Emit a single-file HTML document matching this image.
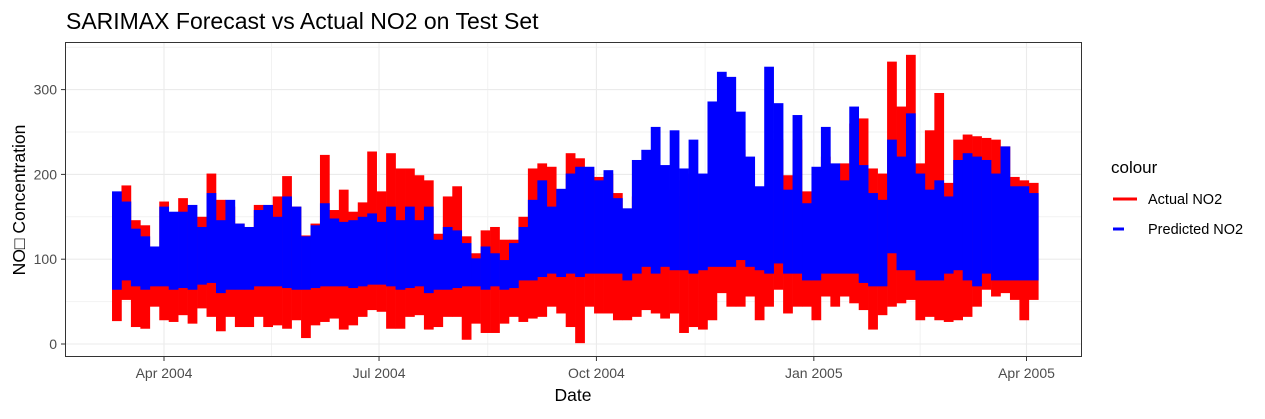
<!DOCTYPE html>
<html><head><meta charset="utf-8"><style>
body{margin:0;background:#fff;font-family:"Liberation Sans","DejaVu Sans",sans-serif;}
svg text{font-family:"Liberation Sans","DejaVu Sans",sans-serif;}
</style></head><body>
<svg id="chart" width="1265" height="414" viewBox="0 0 1265 414" xmlns="http://www.w3.org/2000/svg">
<rect width="1265" height="414" fill="#fff"/>
<text x="66" y="29" font-size="23" fill="#000">SARIMAX Forecast vs Actual NO2 on Test Set</text>
<g id="grid"></g>
<g id="marks"></g>
<rect x="65.5" y="42.5" width="1016" height="314" fill="none" stroke="#333" stroke-width="1"/>
<g id="axes"></g>
<text x="573" y="401" font-size="17.5" text-anchor="middle" fill="#000">Date</text>
<text transform="translate(25,200) rotate(-90)" font-size="17.5" text-anchor="middle" fill="#000">NO□ Concentration</text>
<g>
<text x="1111" y="173" font-size="17" fill="#000">colour</text>
<g>
<line x1="1113" y1="199" x2="1137" y2="199" stroke="#ff0000" stroke-width="3"/>
<text x="1148" y="204" font-size="14.5" fill="#000">Actual NO2</text></g>
<g>
<line x1="1113" y1="229" x2="1137" y2="229" stroke="#0000ff" stroke-width="3" stroke-dasharray="11,13"/>
<text x="1148" y="234" font-size="14.5" fill="#000">Predicted NO2</text></g>
</g>
</svg>
<script>
// 4-day bucket envelopes starting 2004-03-10
const startDate = "2004-03-10";
const bucketDays = 4;
const actualHigh = [173,187,146,140,99,168,154,172,146,150,201,170,162,142,130,164,162,174,198,162,128,142,223,158,182,156,167,227,180,225,207,207,
199,193,130,174,186,127,107,134,138,123,123,150,207,213,209,168,225,219,205,197,201,178,154,174,162,162,182,174,193,201,197,282,245,241,229,162,
178,166,241,199,241,180,170,221,186,213,260,266,207,201,333,280,341,213,252,296,190,241,247,245,243,241,233,197,193,190];
const actualLow = [27,52,20,18,44,28,26,34,24,42,32,15,32,20,20,32,20,22,18,28,7,22,26,30,17,22,32,40,38,18,18,32,
34,17,20,32,32,5,24,13,13,24,32,26,30,32,44,36,20,1,44,36,36,28,28,32,40,36,30,36,13,20,17,28,60,44,44,56,
28,44,64,36,44,44,28,56,44,56,48,40,17,34,44,48,52,28,32,28,26,28,32,44,64,56,60,52,28,52];
const predHigh = [180,168,136,127,115,162,156,156,164,138,178,146,170,142,138,158,164,150,174,162,127,140,166,148,144,146,150,154,144,162,146,162,
146,162,123,138,134,119,101,115,107,99,119,138,170,193,162,183,201,209,209,193,205,172,160,217,229,256,211,252,207,241,201,286,321,315,274,221,
186,327,284,182,270,166,209,256,213,193,280,211,178,170,241,221,272,201,182,193,174,217,225,221,217,201,233,186,186,178];
const predLow = [64,75,68,64,68,68,64,66,64,70,72,60,64,64,64,68,68,68,66,64,64,66,68,68,68,66,68,70,70,68,64,66,
68,60,64,64,66,68,68,64,68,64,66,75,75,79,83,79,83,79,83,83,83,83,75,83,91,83,91,87,87,83,87,91,91,91,99,91,
87,83,95,83,83,75,75,83,83,83,83,72,68,68,107,87,87,75,75,75,83,87,75,68,83,75,75,75,75,75];
const yTicks = [0,100,200,300];
const xTickLabels = ["Apr 2004","Jul 2004","Oct 2004","Jan 2005","Apr 2005"];
const xTickDates = ["2004-04-01","2004-07-01","2004-10-01","2005-01-01","2005-04-01"];

const NS="http://www.w3.org/2000/svg";
const DAY=86400000;
const origin=Date.UTC(2004,3,1);
function dayOf(s){const p=s.split("-");return (Date.UTC(+p[0],+p[1]-1,+p[2])-origin)/DAY;}
function xScale(d){return 164+d*2.363;}
function yScale(v){return 344-v*0.848;}
function mk(tag,attrs,parent){const e=document.createElementNS(NS,tag);for(const k in attrs)e.setAttribute(k,attrs[k]);parent.appendChild(e);return e;}
const grid=document.getElementById("grid"),marks=document.getElementById("marks"),axes=document.getElementById("axes");
for(let i=0;i<yTicks.length;i++){
  const v=yTicks[i]+50;
  const l=mk("line",{x1:66,x2:1081,y1:yScale(v),y2:yScale(v),stroke:"#f2f2f2","stroke-width":1},grid);
  
  
}
for(let i=0;i<xTickDates.length-1;i++){
  const d=(dayOf(xTickDates[i])+dayOf(xTickDates[i+1]))/2;
  const l=mk("line",{x1:xScale(d),x2:xScale(d),y1:43,y2:356,stroke:"#f2f2f2","stroke-width":1},grid);
  
  
}
yTicks.forEach(v=>{
  const y=yScale(v);
  const l=mk("line",{x1:66,x2:1081,y1:y,y2:y,stroke:"#ebebeb","stroke-width":1.1},grid);
  
  
  const t=mk("line",{x1:61,x2:65,y1:y,y2:y,stroke:"#333"},axes);
  
  
  const tx=mk("text",{x:57,y:y+5,"text-anchor":"end","font-size":14,fill:"#4d4d4d"},axes);
  tx.textContent=v;
  
  
});
xTickDates.forEach((s,i)=>{
  const x=xScale(dayOf(s));
  const l=mk("line",{x1:x,x2:x,y1:43,y2:356,stroke:"#ebebeb","stroke-width":1.1},grid);
  
  
  const t=mk("line",{x1:x,x2:x,y1:357,y2:361,stroke:"#333"},axes);
  
  
  const tx=mk("text",{x:x,y:378,"text-anchor":"middle","font-size":14,fill:"#4d4d4d"},axes);
  tx.textContent=xTickLabels[i];
  
  
});
const d0=dayOf(startDate);
function drawSeries(hi,lo,color,name){
  for(let i=0;i<hi.length;i++){
    const xa=xScale(d0+i*bucketDays), xb=xScale(d0+(i+1)*bucketDays);
    const r=mk("rect",{x:xa,y:yScale(hi[i]),width:Math.max(1,xb-xa+0.3),height:Math.max(1,yScale(lo[i])-yScale(hi[i])),fill:color},marks);
    
    
  }
}
drawSeries(actualHigh,actualLow,"#ff0000","actual-no2-segment");
drawSeries(predHigh,predLow,"#0000ff","predicted-no2-segment");
</script>
</body></html>
